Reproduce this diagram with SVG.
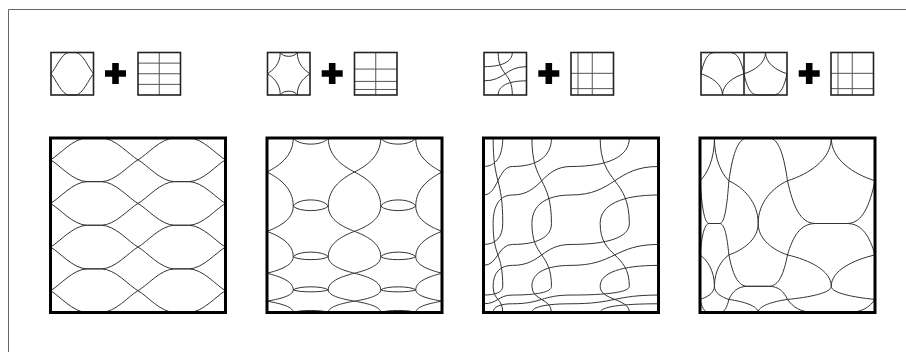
<svg xmlns="http://www.w3.org/2000/svg" width="906" height="352" viewBox="0 0 906 352">
<style>
.c{fill:none;stroke:#333;stroke-width:1;vector-effect:non-scaling-stroke}
.sb{fill:none;stroke:#222;stroke-width:1.6}
.gl{fill:none;stroke:#555;stroke-width:1}
.lb{fill:none;stroke:#000;stroke-width:3}
.pl{fill:#000}
.fr{fill:none;stroke:#666;stroke-width:1}
</style>
<defs>
<path id="t1" class="c" d="M0,50 C10,39 26,0 42,0 L58,0 C74,0 90,39 100,50 M0,50 C10,61 26,100 42,100 L58,100 C74,100 90,61 100,50"/>
<path id="t2" class="c" d="M0,50 C12,42 30,28 30,0 M0,50 C12,58 30,72 30,100 M100,50 C88,42 70,28 70,0 M100,50 C88,58 70,72 70,100 M30,0 C36,12 64,12 70,0 M30,100 C36,88 64,88 70,100"/>
<path id="t3" class="c" d="M66.67,0 C66.67,22 42,33.33 0,33.33 M33.33,0 C33.33,55 66.67,45 66.67,100 M0,66.67 C50,66.67 50,33.33 100,33.33 M33.33,100 C33.33,78 58,66.67 100,66.67"/>
<path id="ta" class="c" d="M0,50 C6,22 14,0 32,0 L68,0 C86,0 94,22 100,50 M0,50 C25,58 50,75 50,100 M100,50 C75,58 50,75 50,100"/>
<path id="tb" class="c" d="M0,50 C6,78 14,100 32,100 L68,100 C86,100 94,78 100,50 M0,50 C25,42 50,25 50,0 M100,50 C75,42 50,25 50,0"/>
<path id="plus" class="pl" d="M-10.5,-3.3h7.2v-7.2h6.6v7.2h7.2v6.6h-7.2v7.2h-6.6v-7.2h-7.2z"/>
</defs>

<path id="frame" class="fr" d="M8.5,352V9.5H906"/>

<g id="panel1">
  <g id="p1-tile">
    <use href="#t1" transform="translate(51,52.5) scale(.425)"/>
    <rect class="sb" x="51" y="52.5" width="42.5" height="42.5"/>
  </g>
  <use id="p1-plus" href="#plus" transform="translate(115.5,73.5)"/>
  <g id="p1-grid">
    <path class="gl" d="M159.25,52.5V95 M138,63.125H180.5 M138,73.75H180.5 M138,84.375H180.5"/>
    <rect class="sb" x="138" y="52.5" width="42.5" height="42.5"/>
  </g>
  <g id="p1-result">
    <use href="#t1" transform="translate(50.5,138) scale(.875,.43625)"/>
    <use href="#t1" transform="translate(138,138) scale(.875,.43625)"/>
    <use href="#t1" transform="translate(50.5,181.625) scale(.875,.43625)"/>
    <use href="#t1" transform="translate(138,181.625) scale(.875,.43625)"/>
    <use href="#t1" transform="translate(50.5,225.25) scale(.875,.43625)"/>
    <use href="#t1" transform="translate(138,225.25) scale(.875,.43625)"/>
    <use href="#t1" transform="translate(50.5,268.875) scale(.875,.43625)"/>
    <use href="#t1" transform="translate(138,268.875) scale(.875,.43625)"/>
    <rect class="lb" x="50.5" y="138" width="175" height="174.5"/>
  </g>
</g>

<g id="panel2">
  <g id="p2-tile">
    <use href="#t2" transform="translate(267.5,52.5) scale(.425)"/>
    <rect class="sb" x="267.5" y="52.5" width="42.5" height="42.5"/>
  </g>
  <use id="p2-plus" href="#plus" transform="translate(332.2,73.5)"/>
  <g id="p2-grid">
    <path class="gl" d="M375.75,52.5V95 M354.5,69.075H397 M354.5,81.4H397 M354.5,89.475H397"/>
    <rect class="sb" x="354.5" y="52.5" width="42.5" height="42.5"/>
  </g>
  <g id="p2-result">
    <use href="#t2" transform="translate(267,138) scale(.875,.68055)"/>
    <use href="#t2" transform="translate(354.5,138) scale(.875,.68055)"/>
    <use href="#t2" transform="translate(267,206.055) scale(.875,.50605)"/>
    <use href="#t2" transform="translate(354.5,206.055) scale(.875,.50605)"/>
    <use href="#t2" transform="translate(267,256.66) scale(.875,.33155)"/>
    <use href="#t2" transform="translate(354.5,256.66) scale(.875,.33155)"/>
    <use href="#t2" transform="translate(267,289.815) scale(.875,.22685)"/>
    <use href="#t2" transform="translate(354.5,289.815) scale(.875,.22685)"/>
    <rect class="lb" x="267" y="138" width="175" height="174.5"/>
  </g>
</g>

<g id="panel3">
  <g id="p3-tile">
    <use href="#t3" transform="translate(484,52.5) scale(.425)"/>
    <rect class="sb" x="484" y="52.5" width="42.5" height="42.5"/>
  </g>
  <use id="p3-plus" href="#plus" transform="translate(548.8,73.5)"/>
  <g id="p3-grid">
    <path class="gl" d="M578,52.5V95 M592.25,52.5V95 M571,73.325H613.5 M571,88.625H613.5"/>
    <rect class="sb" x="571" y="52.5" width="42.5" height="42.5"/>
  </g>
  <g id="p3-result">
    <use href="#t3" transform="translate(483.5,138) scale(.28875,.85505)"/>
    <use href="#t3" transform="translate(512.375,138) scale(.58625,.85505)"/>
    <use href="#t3" transform="translate(571,138) scale(.875,.85505)"/>
    <use href="#t3" transform="translate(483.5,223.505) scale(.28875,.6282)"/>
    <use href="#t3" transform="translate(512.375,223.505) scale(.58625,.6282)"/>
    <use href="#t3" transform="translate(571,223.505) scale(.875,.6282)"/>
    <use href="#t3" transform="translate(483.5,286.325) scale(.28875,.26175)"/>
    <use href="#t3" transform="translate(512.375,286.325) scale(.58625,.26175)"/>
    <use href="#t3" transform="translate(571,286.325) scale(.875,.26175)"/>
    <rect class="lb" x="483.5" y="138" width="175" height="174.5"/>
  </g>
</g>

<g id="panel4">
  <g id="p4-tiles">
    <use href="#ta" transform="translate(701,52.5) scale(.43,.425)"/>
    <use href="#tb" transform="translate(744,52.5) scale(.43,.425)"/>
    <rect class="sb" x="701" y="52.5" width="86" height="42.5"/>
    <path class="sb" d="M744,52.5V95"/>
  </g>
  <use id="p4-plus" href="#plus" transform="translate(809.2,73.5)"/>
  <g id="p4-grid">
    <path class="gl" d="M838,52.5V95 M852.25,52.5V95 M831,73.325H873.5 M831,88.625H873.5"/>
    <rect class="sb" x="831" y="52.5" width="42.5" height="42.5"/>
  </g>
  <g id="p4-result">
    <use href="#tb" transform="translate(700,138) scale(.28875,.85505)"/>
    <use href="#ta" transform="translate(728.875,138) scale(.58625,.85505)"/>
    <use href="#tb" transform="translate(787.5,138) scale(.875,.85505)"/>
    <use href="#ta" transform="translate(700,223.505) scale(.28875,.6282)"/>
    <use href="#tb" transform="translate(728.875,223.505) scale(.58625,.6282)"/>
    <use href="#ta" transform="translate(787.5,223.505) scale(.875,.6282)"/>
    <use href="#tb" transform="translate(700,286.325) scale(.28875,.26175)"/>
    <use href="#ta" transform="translate(728.875,286.325) scale(.58625,.26175)"/>
    <use href="#tb" transform="translate(787.5,286.325) scale(.875,.26175)"/>
    <rect class="lb" x="700" y="138" width="175" height="174.5"/>
  </g>
</g>
</svg>
